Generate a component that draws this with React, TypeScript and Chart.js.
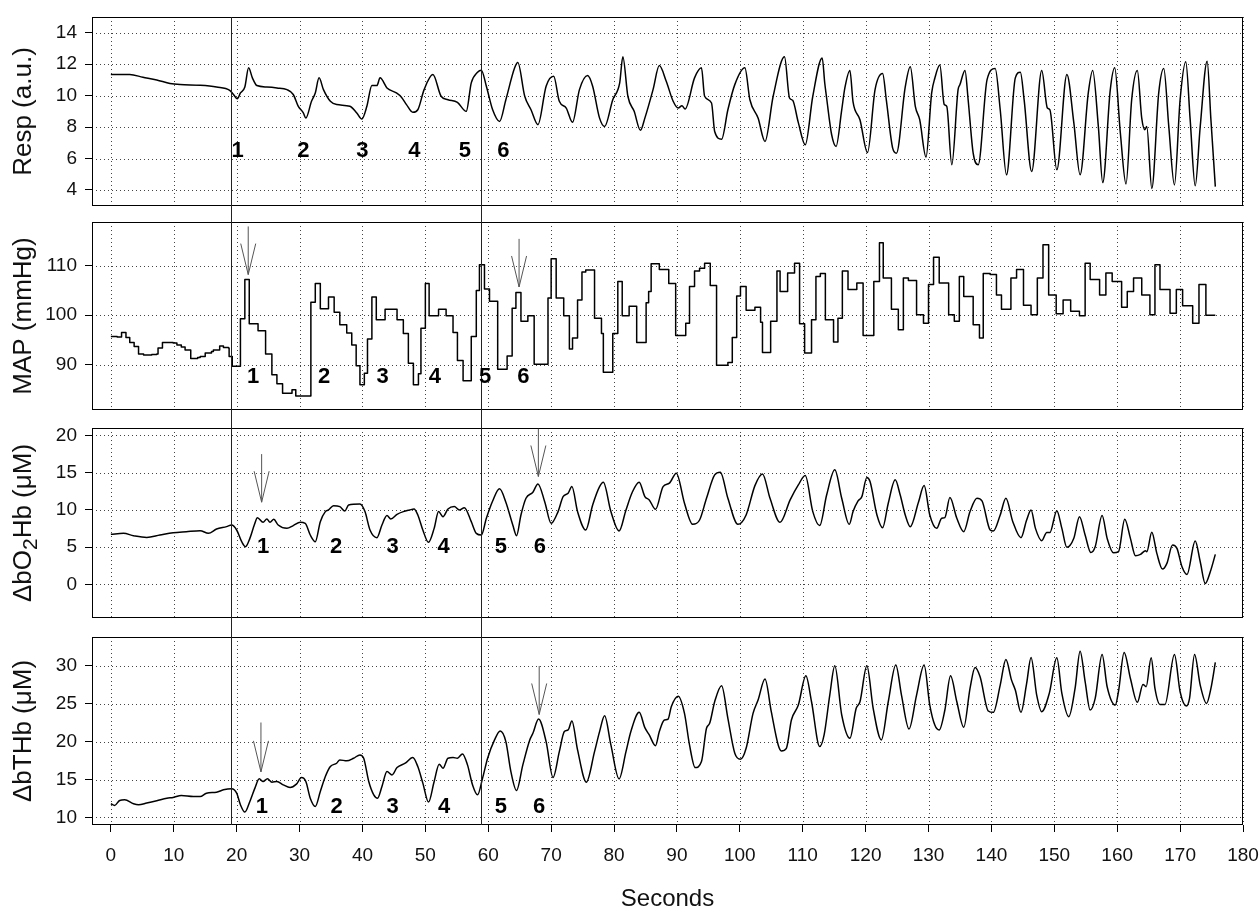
import React, { useEffect, useRef } from "react";
import { Chart, registerables } from "chart.js";

Chart.register(...registerables);

const FONT = '"Liberation Sans", Arial, Helvetica, sans-serif';

// ---------------- data (time in s, value) ----------------
const respPoints: [number, number][] = [
  [0, 11.34], [3, 11.34], [5.1, 11.17], [7.3, 11.0], [9.4, 10.77], [11, 10.7], [14.2, 10.66], [16.8, 10.55],
  [18.9, 10.34], [19.5, 10.07], [20.1, 9.8], [20.6, 10.17], [21.3, 10.55], [21.9, 11.77], [22.5, 11.13],
  [23.2, 10.64], [24.8, 10.55], [26.4, 10.49], [28, 10.38], [29, 10.07], [29.8, 9.32], [30.6, 8.9], [31, 8.57],
  [31.9, 9.64], [32.5, 10.17], [33.1, 11.13], [33.8, 10.38], [34.9, 9.64], [35.9, 9.43], [38, 9.32], [39.1, 8.9],
  [39.9, 8.51], [40.7, 9.32], [41.5, 10.64], [42.3, 10.64], [42.8, 11.13], [43.9, 10.49], [45.4, 10.17],
  [46.2, 9.9], [47, 9.43], [48, 8.94], [48.8, 9.1], [49.8, 10.38], [51.2, 11.34], [52.5, 9.96], [53.6, 9.74],
  [55.1, 9.57], [56.5, 9.0], [57.3, 10.81], [58.3, 11.49], [58.9, 11.62], [59.7, 10.6], [60.7, 9.1], [61.8, 8.36],
  [62.8, 9.74], [64.2, 11.77], [64.7, 12.1], [65.8, 9.96], [66.8, 9.1], [67.9, 8.15], [69.2, 10.6], [70.4, 11.23],
  [71.3, 9.64], [72.4, 9.21], [73.4, 8.3], [74.5, 10.38], [75.8, 11.28], [76.6, 10.6], [77.7, 8.57], [78.5, 8.04],
  [79.8, 9.74], [80.9, 10.81], [81.4, 12.47], [82.2, 9.96], [83.2, 9.0], [84.2, 7.79], [84.9, 8.57], [86.2, 10.38],
  [87.2, 11.91], [88.3, 10.91], [89.4, 9.64], [90.2, 9.21], [90.8, 9.36], [91.3, 9.15], [92.8, 11.13], [93.9, 11.77],
  [94.4, 9.96], [95.5, 9.53], [96, 7.72], [97.1, 7.23], [98.1, 9.1], [99.2, 10.7], [100.8, 11.77], [101.6, 9.74],
  [102.9, 8.57], [104, 7.09], [105.3, 9.96], [107.1, 12.47], [107.9, 9.85], [108.4, 9.7], [109.3, 8.28],
  [110.4, 6.87], [111.6, 9.96], [113.1, 12.4], [113.5, 10.8], [113.8, 9.85], [114.6, 7.51], [115.3, 6.77],
  [116.2, 9.1], [116.7, 10.49], [117.5, 11.6], [118, 9.6], [119.1, 8.47], [120.3, 6.38], [121.5, 10.38],
  [122.7, 11.4], [123.3, 9.7], [124.3, 6.66], [124.9, 6.34], [126.3, 10.55], [127.1, 11.83], [127.9, 9.32],
  [128.6, 8.47], [129.6, 6.09], [130.5, 10.17], [131, 11.1], [131.8, 11.94], [132.5, 9.43], [132.9, 9.32],
  [133.7, 5.6], [134.7, 10.38], [135, 10.7], [135.8, 11.6], [136.3, 9.74], [137.1, 6.34], [137.9, 5.6],
  [139.3, 11.0], [140.6, 11.72], [141.4, 9.1], [142.4, 4.96], [143.8, 11.13], [144.6, 11.49], [145.2, 9.74],
  [146.4, 5.17], [148, 11.6], [148.9, 9.21], [149.3, 9.1], [150.4, 5.28], [152, 11.34], [153.1, 8.28],
  [154.1, 4.96], [155.4, 10.17], [156.1, 11.6], [157, 8.04], [157.7, 4.47], [158.9, 10.38], [159.6, 11.77],
  [160.5, 7.62], [161.4, 4.38], [162.3, 9.74], [163.2, 11.6], [163.9, 8.57], [164.4, 7.83], [164.7, 8.04],
  [165.5, 4.1], [166.6, 10.17], [167.4, 11.72], [168.2, 8.04], [169.1, 4.32], [170, 9.74], [170.9, 12.15],
  [171.6, 8.47], [172.4, 4.26], [173.2, 8.04], [174.3, 12.19], [174.9, 8.47], [175.6, 4.21],
];

// MAP is a beat-to-beat step signal: each value holds until the next time
const mapPoints: [number, number][] = [
  [0, 95.7], [1.0, 95.6], [1.7, 96.5], [2.4, 95.5], [3.0, 94.5], [3.7, 93.7], [4.4, 92.2], [5.2, 92.0],
  [6.5, 92.1], [7.3, 92.2], [7.5, 93.4], [8.2, 94.5], [9.9, 94.4], [10.5, 94.0], [11.2, 93.6], [11.8, 93.0],
  [12.7, 91.3], [13.8, 91.5], [14.2, 91.7], [15.0, 92.4], [16.0, 92.7], [16.3, 93.0], [17.3, 93.8], [17.9, 93.5],
  [18.7, 93.4], [18.8, 91.7], [19.3, 89.7], [20.6, 99.3], [21.3, 107.2], [22.0, 98.3], [23.4, 96.9], [24.6, 92.2],
  [25.6, 88.0], [26.4, 86.2], [27.3, 84.3], [28.8, 85.0], [29.4, 83.7], [31.8, 102.6], [32.5, 106.4],
  [33.3, 101.3], [34.6, 103.7], [35.5, 100.6], [36.4, 98.1], [37.5, 96.4], [38.3, 94.0], [39.0, 89.8],
  [39.6, 86.0], [40.3, 88.3], [40.8, 95.2], [41.5, 103.7], [42.2, 99.1], [43.6, 101.2], [45.5, 99.1],
  [46.5, 96.3], [47.3, 90.3], [48.1, 86.0], [48.9, 88.2], [49.3, 97.4], [50.0, 106.4], [50.6, 99.9],
  [52.1, 101.2], [53.3, 99.9], [54.4, 96.5], [55.1, 90.9], [56.0, 86.8], [57.3, 95.7], [58.1, 105.0],
  [58.6, 110.2], [59.4, 105.3], [60.2, 102.8], [61.5, 89.1], [63.0, 91.8], [63.8, 101.4], [64.4, 104.6],
  [65.2, 98.8], [66.3, 99.9], [67.3, 90.1], [69.5, 103.5], [70.0, 111.4], [70.8, 103.5], [72.0, 99.9],
  [72.9, 93.2], [73.4, 95.4], [74.2, 103.1], [74.9, 108.7], [75.5, 109.1], [76.9, 99.4], [78.0, 96.3],
  [78.3, 88.5], [79.8, 96.3], [80.6, 106.8], [81.3, 99.9], [82.4, 101.8], [83.6, 94.5], [85.1, 102.5],
  [85.5, 104.8], [85.9, 110.4], [87.2, 109.2], [88.7, 106.4], [89.8, 95.9], [91.4, 98.4], [92.0, 105.8],
  [92.8, 108.9], [93.6, 109.5], [94.4, 110.5], [95.3, 106.0], [96.3, 89.9], [98.1, 90.5], [98.8, 95.5],
  [99.5, 103.9], [100.1, 105.8], [101.0, 101.0], [102.4, 101.6], [103.3, 98.6], [103.6, 92.5], [104.9, 98.8],
  [105.9, 108.9], [106.4, 104.8], [107.6, 108.5], [108.7, 110.5], [109.5, 98.3], [110.3, 92.4], [111.4, 99.1],
  [112.1, 107.8], [112.8, 108.4], [113.6, 99.1], [114.9, 94.6], [115.6, 99.4], [116.3, 108.9], [117.2, 105.2],
  [118.6, 106.5], [119.6, 95.9], [121.3, 106.8], [122.2, 114.6], [122.8, 107.5], [124.1, 101.2], [125.2, 97.1],
  [126.0, 107.5], [126.8, 107.0], [128.1, 100.1], [129.2, 98.4], [130.0, 106.2], [130.8, 111.7], [131.7, 106.5],
  [133.2, 100.1], [134.1, 98.8], [134.9, 107.8], [135.6, 103.8], [137.1, 98.1], [138.1, 95.4], [138.7, 108.4],
  [139.8, 108.2], [140.8, 104.1], [141.6, 101.2], [143.1, 107.5], [144.0, 109.2], [145.1, 102.0], [146.3, 100.1],
  [147.3, 107.5], [148.2, 114.2], [149.1, 104.1], [150.3, 100.3], [151.4, 103.1], [152.6, 100.8], [154.0, 99.9],
  [154.9, 110.5], [155.7, 107.2], [157.2, 104.1], [158.2, 108.5], [159.2, 106.8], [160.7, 101.6], [161.6, 104.8],
  [162.6, 107.5], [163.9, 104.1], [165.2, 100.1], [166.0, 110.2], [166.8, 105.2], [168.4, 100.4], [169.4, 105.2],
  [170.4, 101.9], [172.0, 98.4], [173.0, 106.2], [174.1, 100.0], [175.6, 100.0],
];

const o2Points: [number, number][] = [
  [0, 6.73], [2, 6.86], [3.6, 6.55], [5.7, 6.32], [7.8, 6.64], [9.9, 6.95], [12, 7.09], [14.2, 7.22], [15.5, 6.86],
  [16.8, 7.44], [18.4, 7.76], [19.2, 7.98], [20, 7.31], [20.8, 5.74], [21.4, 5.07], [22.1, 6.19], [22.8, 7.98],
  [23.3, 8.97], [24.2, 8.34], [24.8, 8.79], [25.3, 8.34], [25.9, 8.74], [26.6, 7.98], [28, 7.53], [29, 7.9],
  [30.1, 8.34], [30.9, 8.2], [31.7, 6.64], [32.5, 5.74], [33.3, 8.43], [34.1, 9.78], [34.6, 10.0], [35.4, 10.58],
  [36.4, 10.45], [37.2, 9.87], [37.8, 10.67], [39.6, 10.81], [40.4, 9.78], [41.2, 7.31], [42.3, 6.28],
  [43.1, 7.98], [43.9, 9.24], [44.5, 8.79], [45.5, 9.42], [46.5, 9.78], [47.5, 10.0], [48.2, 10.13],
  [48.8, 9.33], [49.6, 7.31], [50.5, 5.65], [51.4, 7.53], [52.1, 9.78], [52.8, 9.1], [53.6, 10.13],
  [54.6, 10.45], [55.4, 10.0], [56.2, 10.31], [57.3, 8.43], [58.1, 6.86], [58.9, 6.64], [59.7, 8.88],
  [60.7, 11.21], [61.8, 12.83], [62.8, 11.03], [63.9, 7.98], [64.5, 6.55], [65.2, 9.33], [66, 11.57],
  [67.1, 12.38], [67.9, 13.5], [69, 11.03], [70, 8.2], [71.1, 9.78], [71.9, 11.79], [72.7, 12.24], [73.3, 13.14],
  [74.2, 9.78], [75.5, 7.31], [76.6, 10.67], [77.7, 13.14], [78.3, 13.72], [79.5, 9.78], [80.8, 7.17],
  [81.9, 10.0], [82.9, 12.38], [84, 13.72], [84.9, 11.79], [85.6, 11.35], [86.6, 10.09], [87.8, 13.14],
  [88.8, 13.59], [89.9, 14.93], [91.2, 10.9], [92.5, 8.07], [93.6, 8.65], [94.7, 11.57], [96, 14.71],
  [96.9, 15.07], [98.1, 11.57], [99.7, 8.07], [101, 9.33], [102.4, 13.27], [103.6, 14.84], [104.8, 11.57],
  [106.4, 8.34], [108, 11.35], [109.3, 13.36], [110.4, 14.62], [111.6, 9.78], [112.7, 7.9], [113.8, 12.0],
  [115.1, 15.38], [116.2, 11.57], [117.4, 8.07], [118, 9.78], [118.8, 11.21], [119.4, 11.79], [120.2, 14.35],
  [120.7, 13.81], [121.8, 9.33], [122.7, 7.62], [123.6, 10.9], [124.7, 14.04], [125.5, 12.0], [126.3, 9.33],
  [127.1, 7.76], [128.4, 11.03], [129.3, 13.27], [130.2, 9.33], [131.3, 7.53], [132.1, 8.88], [132.6, 8.97],
  [133.4, 11.66], [134.5, 8.88], [135.6, 7.09], [136.6, 9.78], [137.7, 11.57], [138.5, 11.21], [139.8, 7.31],
  [140.3, 7.17], [141.4, 9.33], [142.3, 11.57], [143.4, 8.43], [144.7, 6.28], [145.6, 8.65], [146.3, 10.0],
  [147, 7.53], [148, 5.87], [148.8, 6.99], [149.3, 6.99], [150.4, 9.91], [151.2, 7.53], [152, 4.98],
  [153.1, 6.19], [154, 9.1], [154.9, 6.64], [155.8, 4.3], [156.5, 5.07], [157.6, 9.24], [158.4, 6.19],
  [159.4, 4.26], [160.2, 4.39], [161.2, 8.74], [162.1, 6.19], [162.9, 3.86], [163.7, 4.04], [164.5, 4.53],
  [164.7, 4.39], [165.5, 7.0], [166.3, 4.17], [167.2, 2.06], [167.9, 2.83], [168.8, 5.29], [169.5, 4.84],
  [170.3, 2.38], [171.1, 1.35], [172.4, 5.83], [173.2, 3.05], [174, 0.13], [174.8, 1.7], [175.6, 4.04],
];

const thbPoints: [number, number][] = [
  [0, 11.8], [0.6, 11.58], [1.4, 12.24], [2.2, 12.32], [3.6, 11.8], [4.4, 11.67], [5.7, 11.89], [7.3, 12.2],
  [8.9, 12.54], [9.9, 12.63], [11.2, 12.89], [13.1, 12.76], [14.2, 12.76], [15.2, 13.2], [16.8, 13.33],
  [17.9, 13.64], [19.2, 13.77], [20, 13.2], [20.6, 11.67], [21.3, 10.7], [22.1, 12.1], [22.9, 13.86],
  [23.6, 15.09], [24.2, 14.74], [24.9, 15.09], [25.6, 14.65], [26.4, 14.74], [27.4, 14.3], [28.5, 13.95],
  [29.5, 14.39], [30.3, 15.26], [31, 14.74], [31.7, 12.54], [32.5, 11.45], [33.3, 13.42], [34.1, 15.39],
  [34.9, 16.71], [35.9, 17.15], [36.4, 17.59], [37.5, 17.46], [38.6, 17.81], [39.6, 18.25], [40.2, 17.81],
  [41, 14.74], [41.8, 12.98], [42.4, 12.54], [43.1, 14.08], [43.9, 16.05], [44.7, 15.61], [45.5, 16.58],
  [46.8, 17.15], [48, 17.9], [48.8, 16.71], [49.6, 14.52], [50.5, 12.02], [51.4, 14.74], [52.2, 17.02],
  [52.8, 16.49], [53.6, 17.81], [54.4, 17.9], [55.1, 17.81], [55.9, 18.38], [56.7, 16.93], [57.5, 14.3],
  [58.3, 12.98], [59.1, 15.18], [59.9, 17.81], [61, 20.22], [61.9, 21.4], [62.8, 20.0], [63.6, 16.05],
  [64.5, 13.55], [65.5, 16.93], [66.6, 20.22], [67.1, 21.1], [68, 22.98], [69.2, 20.0], [70.3, 15.26],
  [71.3, 18.68], [72.1, 21.32], [72.7, 21.54], [73.3, 22.72], [74.2, 18.9], [75.6, 14.65], [76.9, 18.68],
  [77.7, 21.32], [78.5, 23.42], [79.5, 19.56], [80.8, 15.09], [81.9, 18.68], [82.7, 21.4], [84, 23.86],
  [84.9, 21.84], [85.6, 20.88], [86.6, 19.47], [87.2, 21.32], [88, 22.85], [88.6, 22.98], [89.1, 24.6],
  [90.2, 26.0], [91.2, 23.73], [92, 19.56], [92.9, 16.58], [93.9, 17.37], [94.7, 21.76], [95.2, 22.41],
  [96, 25.26], [97.1, 27.37], [98.1, 23.07], [99.2, 18.46], [100.1, 17.68], [101, 19.12], [102.1, 23.73],
  [102.9, 25.48], [104, 28.25], [105, 23.95], [106.1, 19.56], [106.6, 18.77], [107.4, 19.12], [108.2, 22.85],
  [109.3, 24.82], [110.5, 28.68], [111.4, 25.26], [112.7, 19.34], [113.4, 20.88], [114.3, 26.14], [115.1, 30.0],
  [116.2, 23.51], [117.5, 20.44], [118.5, 24.39], [119.1, 25.26], [120.2, 30.0], [121.2, 24.39], [122.5, 20.22],
  [123.6, 25.26], [124.8, 30.1], [125.7, 26.14], [126.9, 21.67], [128.1, 26.14], [129.3, 30.1], [130.2, 24.82],
  [131, 22.19], [131.7, 21.54], [132.6, 24.17], [133.5, 28.68], [134.5, 25.26], [135.6, 21.89], [136.6, 27.02],
  [137.4, 29.78], [138.2, 28.55], [139.5, 24.04], [140.3, 23.86], [141.4, 27.46], [142.3, 30.83], [143.2, 28.11],
  [143.8, 26.8], [144.7, 23.86], [145.6, 27.68], [146.3, 31.1], [147.2, 26.14], [148, 23.95], [149.2, 26.36],
  [150.4, 31.05], [151.2, 26.36], [152.3, 23.29], [153.3, 27.02], [154.1, 31.93], [154.9, 27.9], [155.7, 24.17],
  [156.5, 25.7], [157.6, 31.49], [158.4, 27.24], [159.7, 24.82], [160.2, 26.58], [161.1, 31.75], [162.1, 28.33],
  [163.2, 25.18], [164.1, 27.55], [164.6, 27.24], [165.4, 31.05], [166, 27.02], [166.8, 24.91], [167.6, 24.91],
  [169.1, 31.49], [170, 26.58], [171, 24.69], [171.5, 25.7], [172.3, 31.49], [173.2, 27.46], [174.2, 25.04],
  [174.9, 27.02], [175.6, 30.44],
];

// event markers (vertical lines through all panels), seconds
const eventTimes = [19.1, 58.8];

// cycle numbers
const cycleLabels = ["1", "2", "3", "4", "5", "6"];
const respLabelTimes = [20.15, 30.6, 40.0, 48.25, 56.3, 62.4];
const respLabelLevel = 6.5;
const mapLabelTimes = [22.6, 33.9, 43.2, 51.5, 59.5, 65.6];
const mapLabelLevel = 87.6;
const o2LabelTimes = [24.2, 35.8, 44.8, 52.9, 62.0, 68.2];
const o2LabelLevel = 5.07;
const thbLabelTimes = [24.0, 35.9, 44.8, 53.0, 62.0, 68.1];
const thbLabelLevel = 11.4;

// arrows (time, top value, tip value)
const mapArrowTimes = [21.84, 64.9];
const mapArrowTops = [117.9, 115.4];
const mapArrowTips = [108.2, 105.7];
const o2ArrowTimes = [23.97, 67.97];
const o2ArrowTops = [17.5, 20.9];
const o2ArrowTips = [11.04, 14.49];
const thbArrowTimes = [23.86, 68.1];
const thbArrowTops = [22.52, 29.98];
const thbArrowTips = [16.01, 23.58];

// axes
const xMin = -3;
const xMax = 180;
const xStep = 10;
const xTitle = "Seconds";

type TitlePart = { text: string; sub?: boolean };
type Panel = {
  key: string;
  points: [number, number][];
  stepped: boolean;
  yMin: number;
  yMax: number;
  yStep: number;
  title: TitlePart[];
  labelTimes: number[];
  labelLevel: number;
  arrowTimes: number[];
  arrowTops: number[];
  arrowTips: number[];
  canvasTop: number;
  canvasHeight: number;
  padTop: number;
  padBottom: number;
  xAxisHeight: number;
  first: boolean;
  last: boolean;
};

const PANELS: Panel[] = [
  {
    key: "resp", points: respPoints, stepped: false, yMin: 2.98, yMax: 15, yStep: 2,
    title: [{ text: "Resp (a.u.)" }],
    labelTimes: respLabelTimes, labelLevel: respLabelLevel,
    arrowTimes: [], arrowTops: [], arrowTips: [],
    canvasTop: 0, canvasHeight: 214, padTop: 17, padBottom: 8, xAxisHeight: 0, first: true, last: false,
  },
  {
    key: "map", points: mapPoints, stepped: true, yMin: 80.9, yMax: 118.8, yStep: 10,
    title: [{ text: "MAP (mmHg)" }],
    labelTimes: mapLabelTimes, labelLevel: mapLabelLevel,
    arrowTimes: mapArrowTimes, arrowTops: mapArrowTops, arrowTips: mapArrowTips,
    canvasTop: 214, canvasHeight: 205, padTop: 8, padBottom: 9, xAxisHeight: 0, first: false, last: false,
  },
  {
    key: "o2", points: o2Points, stepped: false, yMin: -4.5, yMax: 21, yStep: 5,
    title: [{ text: "\u0394bO" }, { text: "2", sub: true }, { text: "Hb (\u03bcM)" }],
    labelTimes: o2LabelTimes, labelLevel: o2LabelLevel,
    arrowTimes: o2ArrowTimes, arrowTops: o2ArrowTops, arrowTips: o2ArrowTips,
    canvasTop: 419, canvasHeight: 208, padTop: 9, padBottom: 9, xAxisHeight: 0, first: false, last: false,
  },
  {
    key: "thb", points: thbPoints, stepped: false, yMin: 9, yMax: 33.8, yStep: 5,
    title: [{ text: "\u0394bTHb (\u03bcM)" }],
    labelTimes: thbLabelTimes, labelLevel: thbLabelLevel,
    arrowTimes: thbArrowTimes, arrowTops: thbArrowTops, arrowTips: thbArrowTips,
    canvasTop: 627, canvasHeight: 282, padTop: 10, padBottom: 0, xAxisHeight: 84, first: false, last: true,
  },
];

function overlayPlugin(p: Panel) {
  return {
    id: "overlay_" + p.key,
    beforeDatasetsDraw(chart: any) {
      const { ctx, chartArea: a } = chart;
      const xs = chart.scales.x;
      const ys = chart.scales.y;
      ctx.save();
      ctx.strokeStyle = "#444";
      ctx.lineWidth = 1;
      ctx.setLineDash([1, 3]);
      xs.ticks.forEach((t: any) => {
        const x = Math.round(xs.getPixelForValue(t.value)) + 0.5;
        ctx.beginPath();
        ctx.moveTo(x, a.top);
        ctx.lineTo(x, a.bottom);
        ctx.stroke();
      });
      ys.ticks.forEach((t: any) => {
        const y = Math.round(ys.getPixelForValue(t.value)) + 0.5;
        ctx.beginPath();
        ctx.moveTo(a.left, y);
        ctx.lineTo(a.right, y);
        ctx.stroke();
      });
      ctx.restore();
    },
    afterDraw(chart: any) {
      const { ctx, chartArea: a } = chart;
      const xs = chart.scales.x;
      const ys = chart.scales.y;
      ctx.save();
      ctx.setLineDash([]);
      // panel box
      ctx.strokeStyle = "#000";
      ctx.lineWidth = 1;
      const L = Math.round(a.left) + 0.5;
      const T = Math.round(a.top) + 0.5;
      const R = Math.round(a.right) - 0.5;
      const B = Math.round(a.bottom) - 0.5;
      ctx.strokeRect(L, T, R - L, B - T);
      // event lines
      ctx.strokeStyle = "#222";
      eventTimes.forEach((t) => {
        const x = Math.round(xs.getPixelForValue(t)) + 0.5;
        ctx.beginPath();
        ctx.moveTo(x, p.first ? a.top : 0);
        ctx.lineTo(x, p.last ? a.bottom : chart.height);
        ctx.stroke();
      });
      // arrows
      ctx.strokeStyle = "#555";
      p.arrowTimes.forEach((t, i) => {
        const x = xs.getPixelForValue(t);
        const y0 = ys.getPixelForValue(p.arrowTops[i]);
        const y1 = ys.getPixelForValue(p.arrowTips[i]);
        ctx.beginPath();
        ctx.moveTo(x, y0);
        ctx.lineTo(x, y1);
        ctx.moveTo(x - 7.5, y1 - 31);
        ctx.lineTo(x, y1);
        ctx.lineTo(x + 7.5, y1 - 31);
        ctx.stroke();
      });
      // cycle numbers
      ctx.fillStyle = "#000";
      ctx.font = `bold 22px ${FONT}`;
      ctx.textAlign = "center";
      ctx.textBaseline = "middle";
      p.labelTimes.forEach((t, i) => {
        ctx.fillText(cycleLabels[i], xs.getPixelForValue(t), ys.getPixelForValue(p.labelLevel));
      });
      // y title (rotated, with optional subscript)
      ctx.fillStyle = "#111";
      ctx.save();
      ctx.translate(23, (a.top + a.bottom) / 2);
      ctx.rotate(-Math.PI / 2);
      const big = `26px ${FONT}`;
      const small = `21px ${FONT}`;
      let total = 0;
      p.title.forEach((part) => {
        ctx.font = part.sub ? small : big;
        total += ctx.measureText(part.text).width;
      });
      let cx = -total / 2;
      ctx.textAlign = "left";
      ctx.textBaseline = "alphabetic";
      p.title.forEach((part) => {
        ctx.font = part.sub ? small : big;
        ctx.fillText(part.text, cx, part.sub ? 14 : 8);
        cx += ctx.measureText(part.text).width;
      });
      ctx.restore();
      // x title
      if (p.last) {
        ctx.font = `24px ${FONT}`;
        ctx.textAlign = "center";
        ctx.textBaseline = "alphabetic";
        ctx.fillStyle = "#111";
        ctx.fillText(xTitle, (a.left + a.right) / 2, chart.height - 3);
      }
      ctx.restore();
    },
  };
}

function makeConfig(p: Panel): any {
  const tickFont = { family: FONT, size: 19 };
  return {
    type: "line",
    data: {
      datasets: [
        {
          data: p.points.map(([t, v]) => ({ x: t, y: v })),
          borderColor: "#000",
          borderWidth: 1.5,
          borderJoinStyle: "round",
          pointRadius: 0,
          fill: false,
          tension: 0,
          stepped: p.stepped ? "before" : false,
          cubicInterpolationMode: p.stepped ? "default" : "monotone",
        },
      ],
    },
    options: {
      responsive: false,
      animation: false,
      devicePixelRatio: 1,
      events: [],
      layout: { padding: { top: p.padTop, bottom: p.padBottom, left: 0, right: 17 } },
      plugins: { legend: { display: false }, tooltip: { enabled: false }, title: { display: false } },
      scales: {
        x: {
          type: "linear",
          min: xMin,
          max: xMax,
          afterFit: (s: any) => {
            s.height = p.xAxisHeight;
            s.paddingLeft = 0;
            s.paddingRight = 0;
            s.paddingTop = 0;
            s.paddingBottom = 0;
          },
          ticks: {
            display: p.last,
            stepSize: xStep,
            includeBounds: false,
            autoSkip: false,
            maxRotation: 0,
            minRotation: 0,
            padding: 12,
            color: "#111",
            font: tickFont,
          },
          grid: {
            display: true,
            drawOnChartArea: false,
            drawTicks: p.last,
            tickLength: 7,
            tickColor: "#000",
            tickWidth: 1,
          },
          border: { display: false },
        },
        y: {
          type: "linear",
          min: p.yMin,
          max: p.yMax,
          afterFit: (s: any) => {
            s.width = 92;
            s.paddingTop = 0;
            s.paddingBottom = 0;
          },
          ticks: {
            stepSize: p.yStep,
            includeBounds: false,
            padding: 8,
            color: "#111",
            font: tickFont,
          },
          grid: {
            display: true,
            drawOnChartArea: false,
            drawTicks: true,
            tickLength: 7,
            tickColor: "#000",
            tickWidth: 1,
          },
          border: { display: false },
        },
      },
    },
    plugins: [overlayPlugin(p)],
  };
}

export default function App() {
  const canvasRefs = useRef<(HTMLCanvasElement | null)[]>([]);

  useEffect(() => {
    document.body.style.margin = "0";
    const charts = PANELS.map((p, i) => new Chart(canvasRefs.current[i] as HTMLCanvasElement, makeConfig(p)));
    return () => {
      charts.forEach((c) => c.destroy());
    };
  }, []);

  return (
    <div
      style={{
        position: "absolute",
        left: 0,
        top: 0,
        width: 1260,
        height: 909,
        background: "#fff",
        overflow: "hidden",
      }}
    >
      {PANELS.map((p, i) => (
        <canvas
          key={p.key}
          ref={(el) => {
            canvasRefs.current[i] = el;
          }}
          width={1260}
          height={p.canvasHeight}
          style={{ position: "absolute", left: 0, top: p.canvasTop, width: 1260, height: p.canvasHeight }}
        />
      ))}
    </div>
  );
}
